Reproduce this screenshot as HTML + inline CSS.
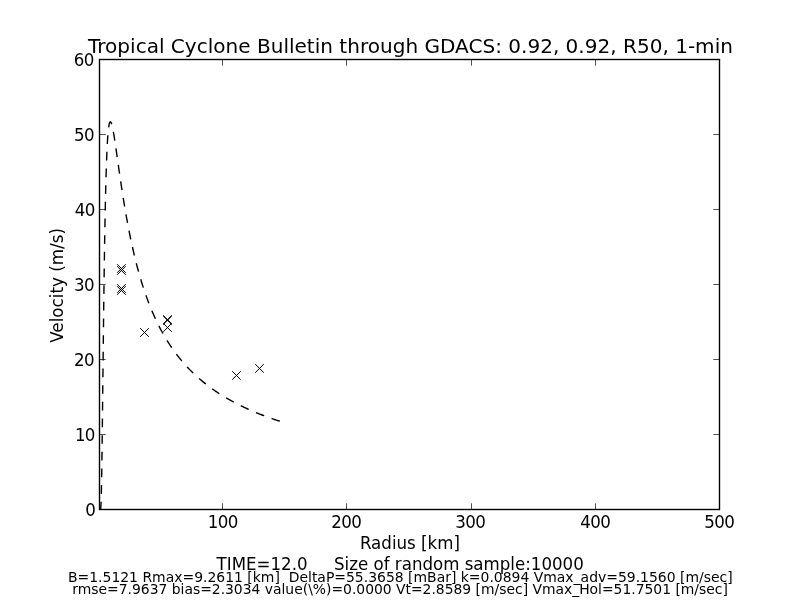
<!DOCTYPE html>
<html><head><meta charset="utf-8"><title>Tropical Cyclone Bulletin</title>
<style>
html,body{margin:0;padding:0;background:#fff;overflow:hidden}
svg{display:block}
text{font-family:"DejaVu Sans","Liberation Sans",sans-serif;fill:#000;white-space:pre}
</style></head><body>
<svg width="800" height="600" viewBox="0 0 800 600">
<rect width="800" height="600" fill="#fff"/>
<clipPath id="ax"><rect x="100" y="60" width="620" height="450"/></clipPath>
<g clip-path="url(#ax)">
<polyline points="100.00,510.00 100.06,510.00 100.12,509.99 100.19,509.97 100.25,509.95 100.31,509.91 100.37,509.83 100.43,509.72 100.50,509.56 100.56,509.32 100.62,509.00 100.68,508.58 100.75,508.03 100.81,507.34 100.87,506.50 100.93,505.47 100.99,504.26 101.06,502.84 101.12,501.21 101.18,499.35 101.24,497.26 101.30,494.94 101.37,492.38 101.43,489.60 101.49,486.57 101.55,483.33 101.62,479.86 101.68,476.18 101.74,472.30 101.80,468.22 101.86,463.96 101.93,459.53 101.99,454.94 102.05,450.21 102.11,445.34 102.17,440.34 102.24,435.24 102.30,430.05 102.36,424.77 102.42,419.41 102.48,414.00 102.55,408.53 102.61,403.03 102.67,397.50 102.73,391.94 102.80,386.38 102.86,380.81 102.92,375.25 102.98,369.70 103.04,364.18 103.11,358.68 103.17,353.21 103.23,347.78 103.29,342.40 103.35,337.07 103.42,331.79 103.48,326.56 103.54,321.40 103.60,316.30 103.67,311.27 103.73,306.31 103.79,301.42 103.85,296.60 103.91,291.86 103.98,287.20 104.04,282.62 104.10,278.11 104.16,273.69 104.22,269.34 104.29,265.08 104.35,260.90 104.41,256.80 104.47,252.78 104.54,248.85 104.60,245.00 104.66,241.22 104.72,237.53 104.78,233.92 104.85,230.39 104.91,226.94 104.97,223.57 105.03,220.27 105.09,217.05 105.16,213.91 105.22,210.84 105.28,207.85 105.34,204.93 105.40,202.08 105.47,199.30 105.53,196.59 105.59,193.96 105.65,191.39 105.72,188.88 105.78,186.44 105.84,184.07 105.90,181.76 105.96,179.51 106.03,177.33 106.09,175.20 106.15,173.13 106.21,171.12 106.27,169.17 106.34,167.27 106.40,165.43 106.46,163.64 106.52,161.91 106.59,160.22 106.65,158.59 106.71,157.00 106.77,155.47 106.83,153.98 106.90,152.53 106.96,151.14 107.02,149.78 107.08,148.47 107.14,147.21 107.21,145.98 107.27,144.80 107.33,143.65 107.39,142.55 107.45,141.48 107.52,140.45 107.58,139.46 107.64,138.50 107.70,137.58 107.77,136.69 107.83,135.83 107.89,135.01 107.95,134.22 108.01,133.46 108.08,132.73 108.14,132.03 108.20,131.36 108.26,130.72 108.32,130.10 108.39,129.51 108.45,128.95 108.51,128.42 108.57,127.91 108.64,127.43 108.70,126.97 108.76,126.53 108.82,126.12 108.88,125.72 108.95,125.35 109.01,125.01 109.07,124.68 109.13,124.37 109.19,124.09 109.26,123.82 109.32,123.57 109.38,123.35 109.44,123.14 109.51,122.94 109.57,122.77 109.63,122.61 109.69,122.47 109.75,122.34 109.82,122.23 109.88,122.14 109.94,122.06 110.00,121.99 110.06,121.94 110.13,121.91 110.19,121.88 110.25,121.87 110.31,121.86 110.37,121.85 110.44,121.86 110.50,121.88 110.56,121.91 110.62,121.95 110.69,122.00 110.75,122.07 110.81,122.14 110.87,122.23 110.93,122.32 111.00,122.43 111.06,122.54 111.12,122.67 111.18,122.80 111.24,122.94 111.31,123.09 111.37,123.26 111.43,123.42 111.49,123.60 111.56,123.79 111.62,123.98 111.68,124.18 111.74,124.39 111.80,124.60 111.87,124.82 111.93,125.05 111.99,125.28 112.05,125.53 112.11,125.77 112.18,126.03 112.24,126.29 112.30,126.55 112.36,126.83 112.42,127.10 112.49,127.39 112.55,127.67 112.61,127.97 112.67,128.26 112.74,128.57 112.80,128.88 112.86,129.19 112.92,129.50 112.98,129.82 113.05,130.15 113.11,130.48 113.17,130.81 113.23,131.15 113.29,131.49 113.36,131.84 113.42,132.18 113.48,132.54 113.54,132.89 113.61,133.25 113.67,133.61 114.29,137.38 114.91,141.38 115.53,145.55 116.15,149.82 116.77,154.16 117.39,158.53 118.02,162.91 118.64,167.28 119.26,171.62 119.88,175.91 120.50,180.15 121.12,184.32 121.74,188.43 122.36,192.46 122.99,196.42 123.61,200.30 124.23,204.10 124.85,207.82 125.47,211.45 126.09,215.01 126.71,218.49 127.33,221.89 127.96,225.22 128.58,228.47 129.20,231.64 129.82,234.74 130.44,237.77 131.06,240.74 131.68,243.63 132.30,246.46 132.93,249.23 133.55,251.93 134.17,254.57 134.79,257.16 135.41,259.69 136.03,262.16 136.65,264.58 137.27,266.95 137.90,269.26 138.52,271.53 139.14,273.75 139.76,275.92 140.38,278.05 141.00,280.13 141.62,282.18 142.24,284.18 142.87,286.14 143.49,288.06 144.11,289.94 144.73,291.79 145.35,293.60 145.97,295.38 146.59,297.12 147.21,298.83 147.84,300.51 148.46,302.16 149.08,303.78 149.70,305.37 150.32,306.93 150.94,308.46 151.56,309.96 152.18,311.44 152.81,312.90 153.43,314.33 154.05,315.73 154.67,317.11 155.29,318.47 155.91,319.80 156.53,321.12 157.15,322.41 157.78,323.68 158.40,324.93 159.02,326.16 159.64,327.37 160.26,328.56 160.88,329.74 161.50,330.89 162.12,332.03 162.75,333.15 163.37,334.26 163.99,335.35 164.61,336.42 165.23,337.47 165.85,338.51 166.47,339.54 167.09,340.55 167.72,341.55 168.34,342.53 168.96,343.50 169.58,344.46 170.20,345.40 170.82,346.33 171.44,347.25 172.06,348.15 172.69,349.05 173.31,349.93 173.93,350.80 174.55,351.65 175.17,352.50 175.79,353.34 176.41,354.16 177.03,354.98 177.66,355.78 178.28,356.58 178.90,357.36 179.52,358.14 180.14,358.90 180.76,359.66 181.38,360.41 182.00,361.14 182.63,361.87 183.25,362.59 183.87,363.31 184.49,364.01 185.11,364.71 185.73,365.39 186.35,366.07 186.97,366.75 187.60,367.41 188.22,368.07 188.84,368.72 189.46,369.36 190.08,370.00 190.70,370.62 191.32,371.25 191.94,371.86 192.57,372.47 193.19,373.07 193.81,373.67 194.43,374.25 195.05,374.84 195.67,375.41 196.29,375.99 196.91,376.55 197.54,377.11 198.16,377.66 198.78,378.21 199.40,378.75 200.02,379.29 200.64,379.82 201.26,380.35 201.88,380.87 202.51,381.38 203.13,381.89 203.75,382.40 204.37,382.90 204.99,383.40 205.61,383.89 206.23,384.37 206.85,384.85 207.47,385.33 208.10,385.81 208.72,386.27 209.34,386.74 209.96,387.20 210.58,387.65 211.20,388.10 211.82,388.55 212.44,389.00 213.07,389.43 213.69,389.87 214.31,390.30 214.93,390.73 215.55,391.15 216.17,391.57 216.79,391.99 217.41,392.40 218.04,392.81 218.66,393.22 219.28,393.62 219.90,394.02 220.52,394.41 221.14,394.81 221.76,395.20 222.38,395.58 223.01,395.96 223.63,396.34 224.25,396.72 224.87,397.09 225.49,397.46 226.11,397.83 226.73,398.19 227.35,398.55 227.98,398.91 228.60,399.27 229.22,399.62 229.84,399.97 230.46,400.32 231.08,400.66 231.70,401.00 232.32,401.34 232.95,401.68 233.57,402.01 234.19,402.34 234.81,402.67 235.43,402.99 236.05,403.32 236.67,403.64 237.29,403.96 237.92,404.27 238.54,404.59 239.16,404.90 239.78,405.21 240.40,405.51 241.02,405.82 241.64,406.12 242.26,406.42 242.89,406.72 243.51,407.02 244.13,407.31 244.75,407.60 245.37,407.89 245.99,408.18 246.61,408.46 247.23,408.75 247.86,409.03 248.48,409.31 249.10,409.58 249.72,409.86 250.34,410.13 250.96,410.40 251.58,410.67 252.20,410.94 252.83,411.21 253.45,411.47 254.07,411.74 254.69,412.00 255.31,412.26 255.93,412.51 256.55,412.77 257.17,413.02 257.80,413.27 258.42,413.52 259.04,413.77 259.66,414.02 260.28,414.27 260.90,414.51 261.52,414.75 262.14,414.99 262.77,415.23 263.39,415.47 264.01,415.71 264.63,415.94 265.25,416.17 265.87,416.41 266.49,416.64 267.11,416.87 267.74,417.09 268.36,417.32 268.98,417.54 269.60,417.77 270.22,417.99 270.84,418.21 271.46,418.43 272.08,418.65 272.71,418.86 273.33,419.08 273.95,419.29 274.57,419.50 275.19,419.72 275.81,419.93 276.43,420.13 277.05,420.34 277.68,420.55 278.30,420.75 278.92,420.96 279.54,421.16 280.16,421.36" fill="none" stroke="#000" stroke-width="1.39" stroke-dasharray="8.73 7.937" stroke-dashoffset="0.2" stroke-linejoin="round"/>
<path d="M117.10 264.20L125.70 272.80M117.10 272.80L125.70 264.20M117.10 266.20L125.70 274.80M117.10 274.80L125.70 266.20M117.10 284.20L125.70 292.80M117.10 292.80L125.70 284.20M117.10 286.20L125.70 294.80M117.10 294.80L125.70 286.20M140.20 328.20L148.80 336.80M140.20 336.80L148.80 328.20M163.20 315.30L171.80 323.90M163.20 323.90L171.80 315.30M163.20 316.00L171.80 324.60M163.20 324.60L171.80 316.00M163.20 323.30L171.80 331.90M163.20 331.90L171.80 323.30M232.20 371.15L240.80 379.75M232.20 379.75L240.80 371.15M255.20 364.10L263.80 372.70M255.20 372.70L263.80 364.10" fill="none" stroke="#000" stroke-width="1.0"/>
</g>
<path d="M222.5 509.5V503.3M222.5 59.5V65.7M346.5 509.5V503.3M346.5 59.5V65.7M471.5 509.5V503.3M471.5 59.5V65.7M595.5 509.5V503.3M595.5 59.5V65.7M99.5 134.5H105.7M719.5 134.5H713.3M99.5 209.5H105.7M719.5 209.5H713.3M99.5 284.5H105.7M719.5 284.5H713.3M99.5 359.5H105.7M719.5 359.5H713.3M99.5 434.5H105.7M719.5 434.5H713.3" fill="none" stroke="#000" stroke-width="0.69"/>
<rect x="99.5" y="59.5" width="620" height="450" fill="none" stroke="#000" stroke-width="1.39"/>
<g font-size="16.667px"><text transform="translate(222.65 528.10) scale(1.0 1.07)" text-anchor="middle" letter-spacing="-0.6">100</text><text transform="translate(346.20 528.10) scale(1.0 1.07)" text-anchor="middle" letter-spacing="-0.6">200</text><text transform="translate(470.25 528.10) scale(1.0 1.07)" text-anchor="middle" letter-spacing="-0.6">300</text><text transform="translate(595.15 528.10) scale(1.0 1.07)" text-anchor="middle" letter-spacing="-0.6">400</text><text transform="translate(719.20 528.10) scale(1.0 1.07)" text-anchor="middle" letter-spacing="-0.6">500</text><text transform="translate(93.80 66.00) scale(1.0 1.07)" text-anchor="end" letter-spacing="-0.6">60</text><text transform="translate(93.90 141.00) scale(1.0 1.07)" text-anchor="end" letter-spacing="-0.6">50</text><text transform="translate(94.65 216.00) scale(1.0 1.07)" text-anchor="end" letter-spacing="-0.6">40</text><text transform="translate(93.90 291.00) scale(1.0 1.07)" text-anchor="end" letter-spacing="-0.6">30</text><text transform="translate(93.90 366.00) scale(1.0 1.07)" text-anchor="end" letter-spacing="-0.6">20</text><text transform="translate(94.18 441.00) scale(1.0 1.07)" text-anchor="end" letter-spacing="-1.05">10</text><text transform="translate(95.15 516.00) scale(1.0 1.07)" text-anchor="end" letter-spacing="-0.6">0</text>
<text transform="translate(409.90 548.75) scale(1.0 1.07)" text-anchor="middle">Radius [km]</text>
<text transform="translate(62.9 285.4) rotate(-90) scale(1.005 1.07)" text-anchor="middle">Velocity (m/s)</text>
<text transform="translate(400.20 569.70) scale(0.9988 1.07)" text-anchor="middle" xml:space="preserve">TIME=12.0     Size of random sample:10000</text>
</g>
<text transform="translate(410.45 53) scale(1.0023 1)" font-size="20px" text-anchor="middle">Tropical Cyclone Bulletin through GDACS: 0.92, 0.92, R50, 1-min</text>
<g font-size="13.889px">
<text transform="translate(400.3 581.5) scale(1.0045 1)" text-anchor="middle" xml:space="preserve">B=1.5121 Rmax=9.2611 [km]  DeltaP=55.3658 [mBar] k=0.0894 Vmax_adv=59.1560 [m/sec]</text>
<text transform="translate(400.1 593.6) scale(1.0013 1)" text-anchor="middle" xml:space="preserve">rmse=7.9637 bias=2.3034 value(\%)=0.0000 Vt=2.8589 [m/sec] Vmax_Hol=51.7501 [m/sec]</text>
</g>
</svg>
</body></html>
